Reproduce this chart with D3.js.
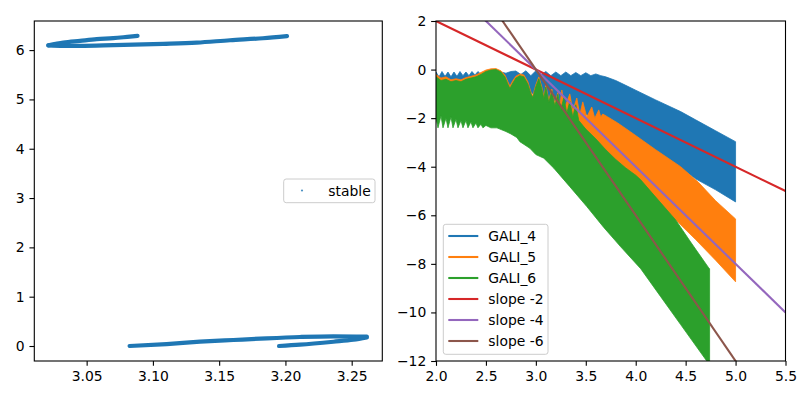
<!DOCTYPE html>
<html>
<head>
<meta charset="utf-8">
<script src="https://cdn.jsdelivr.net/npm/d3@7"></script>
<style>
  html, body { margin: 0; padding: 0; background: #fff; }
  svg { display: block; }
  text { font-family: "DejaVu Sans", sans-serif; }
</style>
</head>
<body>
<svg id="chart" width="800" height="400"></svg>
<script>
// ---------------- DATA ----------------
// Left panel: "stable" scatter, read along the four visible branches of the orbit
const stableTopLower = [[3.0211,6.095],[3.0322,6.085],[3.045,6.085],[3.0701,6.099],[3.1079,6.126],[3.1331,6.152],[3.1582,6.200],[3.183,6.240],[3.2012,6.282]];
const stableTopUpper = [[3.0211,6.095],[3.0324,6.152],[3.045,6.187],[3.0576,6.221],[3.0701,6.241],[3.0827,6.274],[3.0884,6.288]];
const stableBotUpper = [[3.0824,0.0],[3.1104,0.040],[3.1356,0.087],[3.1607,0.122],[3.1859,0.156],[3.211,0.183],[3.2362,0.197],[3.2614,0.189]];
const stableBotLower = [[3.1952,0.0],[3.211,0.027],[3.2362,0.087],[3.2513,0.128],[3.2614,0.176]];
const leftXTicks = [3.05, 3.10, 3.15, 3.20, 3.25];
const leftYTicks = [0, 1, 2, 3, 4, 5, 6];

// Right panel: GALI envelopes (log10 t vs log10 GALI) — upper / lower extent of the oscillation
const gali4UpX = [2.00,2.03,2.06,2.09,2.12,2.15,2.18,2.21,2.24,2.27,2.30,2.33,2.36,2.39,2.42,2.45,2.50,2.55,2.60,2.65,2.70,2.75,2.80,2.85,2.90,2.95,3.00,3.05,3.10,3.15,3.20,3.25,3.30,3.35,3.40,3.45,3.50,3.55,3.60,3.65,3.70,3.80,3.90,4.00,4.20,4.45,4.60,4.80,5.00];
const gali4Up  = [-0.10,-0.30,-0.08,-0.28,-0.10,-0.30,-0.10,-0.28,-0.08,-0.25,-0.10,-0.25,-0.08,-0.22,-0.08,-0.20,-0.06,-0.08,-0.03,-0.10,-0.15,-0.08,-0.06,-0.20,-0.05,-0.25,-0.05,-0.22,-0.08,-0.25,-0.10,-0.25,-0.10,-0.25,-0.12,-0.25,-0.13,-0.25,-0.18,-0.25,-0.30,-0.45,-0.65,-0.85,-1.25,-1.73,-2.07,-2.52,-2.97];
const gali4LoX = [2.00,2.50,2.80,3.00,3.10,3.20,3.30,3.40,3.50,3.60,3.70,3.80,3.90,4.00,4.20,4.45,4.60,4.80,5.00];
const gali4Lo  = [-0.75,-0.80,-0.90,-1.00,-1.15,-1.30,-1.50,-1.70,-1.85,-2.00,-2.20,-2.40,-2.65,-2.90,-3.40,-4.05,-4.50,-4.95,-5.45];

const gali5UpX = [2.00,2.05,2.10,2.15,2.20,2.25,2.30,2.35,2.40,2.45,2.50,2.55,2.60,2.65,2.69,2.72,2.74,2.77,2.80,2.84,2.88,2.92,2.95,2.97,3.00,3.03,3.06,3.08,3.10,3.13,3.16,3.19,3.22,3.24,3.26,3.29,3.34,3.37,3.41,3.44,3.47,3.51,3.56,3.59,3.63,3.65,3.67,3.72,3.82,3.95,4.20,4.45,4.63,4.80,5.00];
const gali5Up  = [-0.20,-0.35,-0.30,-0.42,-0.38,-0.42,-0.33,-0.28,-0.22,-0.12,-0.02,0.03,0.04,-0.05,-0.22,-0.50,-0.68,-0.45,-0.27,-0.18,-0.22,-0.50,-0.92,-1.08,-0.62,-0.30,-0.72,-1.10,-0.65,-1.25,-0.80,-1.40,-0.95,-1.50,-0.84,-1.55,-1.00,-1.70,-1.17,-1.85,-1.33,-1.95,-1.54,-2.00,-1.66,-1.95,-1.83,-1.95,-2.20,-2.57,-3.30,-4.00,-4.65,-5.40,-6.15];
const gali5LoX = [2.00,2.60,3.00,3.50,4.00,4.43,4.60,4.80,5.00];
const gali5Lo  = [-1.75,-1.85,-3.00,-3.90,-4.90,-6.31,-7.00,-7.85,-8.74];

const gali6UpX = [2.00,2.05,2.10,2.15,2.20,2.25,2.30,2.35,2.40,2.45,2.50,2.55,2.60,2.65,2.69,2.72,2.74,2.77,2.80,2.84,2.88,2.92,2.95,2.97,3.00,3.03,3.06,3.08,3.10,3.13,3.16,3.19,3.22,3.25,3.28,3.31,3.34,3.37,3.40,3.43,3.50,3.60,3.70,3.80,3.90,4.00,4.05,4.20,4.40,4.55,4.73,4.74];
const gali6Up  = [-0.30,-0.45,-0.40,-0.50,-0.45,-0.50,-0.40,-0.35,-0.30,-0.20,-0.08,-0.02,0.00,-0.10,-0.30,-0.60,-0.78,-0.55,-0.35,-0.25,-0.30,-0.60,-1.00,-1.15,-0.70,-0.38,-0.80,-1.20,-0.72,-1.35,-0.88,-1.50,-1.02,-1.65,-1.15,-1.80,-1.30,-1.95,-1.45,-2.10,-2.45,-2.85,-3.30,-3.70,-4.05,-4.35,-4.54,-5.25,-6.19,-7.10,-8.16,-8.20];
const gali6LoX = [2.00,2.02,2.05,2.07,2.10,2.12,2.15,2.17,2.20,2.22,2.25,2.27,2.30,2.32,2.35,2.37,2.40,2.42,2.45,2.47,2.50,2.55,2.61,2.70,2.75,2.81,2.84,2.94,3.00,3.08,3.18,3.34,3.51,3.68,3.85,4.05,4.25,4.45,4.72,4.74];
const gali6Lo  = [-2.00,-2.40,-1.90,-2.40,-2.00,-2.40,-1.95,-2.40,-2.05,-2.40,-2.10,-2.40,-2.10,-2.40,-2.15,-2.40,-2.20,-2.40,-2.25,-2.40,-2.30,-2.40,-2.40,-2.55,-2.65,-2.80,-2.97,-3.24,-3.50,-3.65,-4.06,-4.82,-5.64,-6.50,-7.30,-8.20,-9.35,-10.50,-12.05,-12.20];

const slopeX = [2.0, 5.5];
const slope2Y = [2.0, -5.0];
const slope4Y = [4.0, -10.0];
const slope6Y = [6.0, -15.0];
const rightXTicks = [2.0, 2.5, 3.0, 3.5, 4.0, 4.5, 5.0, 5.5];
const rightYTicks = [-12, -10, -8, -6, -4, -2, 0, 2];

const legendNames = ["GALI_4", "GALI_5", "GALI_6", "slope -2", "slope -4", "slope -6"];
const colors = ["#1f77b4", "#ff7f0e", "#2ca02c", "#d62728", "#9467bd", "#8c564b"];

// ---------------- LAYOUT ----------------
const svg = d3.select("#chart");
const FS = 13.9, TICK = 4.86, PAD = 4.86, SPINE = 1.1;
const L = {x0: 34.3, x1: 382.3, y0: 21, y1: 361};
const R = {x0: 436, x1: 785.5, y0: 21, y1: 361};

const lx = d3.scaleLinear().domain([3.0105, 3.2731]).range([L.x0, L.x1]);
const ly = d3.scaleLinear().domain([-0.304, 6.59]).range([L.y1, L.y0]);
const rx = d3.scaleLinear().domain([2.0, 5.5]).range([R.x0, R.x1]);
const ry = d3.scaleLinear().domain([-12, 2]).range([R.y1, R.y0]);

function axes(g, box, xs, ys, xTicks, yTicks, xfmt, yfmt) {
  const ax = d3.axisBottom(xs).tickValues(xTicks).tickSize(TICK).tickPadding(PAD).tickFormat(xfmt);
  const gx = g.append("g").attr("transform", `translate(0,${box.y1})`).call(ax);
  const ay = d3.axisLeft(ys).tickValues(yTicks).tickSize(TICK).tickPadding(PAD).tickFormat(yfmt);
  const gy = g.append("g").attr("transform", `translate(${box.x0},0)`).call(ay);
  [gx, gy].forEach(a => {
    a.select(".domain").remove();
    a.selectAll(".tick line").attr("stroke", "#000").attr("stroke-width", SPINE);
    a.selectAll(".tick text").attr("fill", "#000").style("font-size", FS + "px").style("font-family", "DejaVu Sans");
  });
  g.append("rect").attr("x", box.x0).attr("y", box.y0)
    .attr("width", box.x1 - box.x0).attr("height", box.y1 - box.y0)
    .attr("fill", "none").attr("stroke", "#000").attr("stroke-width", SPINE);
}

// ---------------- LEFT PANEL ----------------
const gl = svg.append("g");
svg.append("clipPath").attr("id", "clipL").append("rect")
  .attr("x", L.x0).attr("y", L.y0).attr("width", L.x1 - L.x0).attr("height", L.y1 - L.y0);
const lline = d3.line().x(d => lx(d[0])).y(d => ly(d[1])).curve(d3.curveMonotoneX);
const branches = [stableTopLower, stableTopUpper, stableBotUpper, stableBotLower];
gl.append("g").attr("clip-path", "url(#clipL)").selectAll("path").data(branches).join("path")
  .attr("d", lline).attr("fill", "none").attr("stroke", colors[0])
  .attr("stroke-width", 4.2).attr("stroke-linecap", "round").attr("stroke-linejoin", "round");
axes(gl, L, lx, ly, leftXTicks, leftYTicks, d3.format(".2f"), d3.format("d"));

// left legend
const lg = gl.append("g");
lg.append("rect").attr("x", 283.7).attr("y", 179).attr("width", 91.3).attr("height", 23.7)
  .attr("rx", 2.5).attr("fill", "#fff").attr("fill-opacity", 0.8).attr("stroke", "#cccccc").attr("stroke-width", 1);
lg.append("circle").attr("cx", 302).attr("cy", 190.5).attr("r", 1.1).attr("fill", colors[0]).attr("opacity", 0.8);
lg.append("text").attr("x", 328.3).attr("y", 195.5).text("stable").style("font-size", FS + "px").attr("fill", "#000");

// ---------------- RIGHT PANEL ----------------
const gr = svg.append("g");
svg.append("clipPath").attr("id", "clipR").append("rect")
  .attr("x", R.x0).attr("y", R.y0).attr("width", R.x1 - R.x0).attr("height", R.y1 - R.y0);
const plot = gr.append("g").attr("clip-path", "url(#clipR)");

const bands = [
  {ux: gali4UpX, u: gali4Up, lx: gali4LoX, l: gali4Lo, c: colors[0]},
  {ux: gali5UpX, u: gali5Up, lx: gali5LoX, l: gali5Lo, c: colors[1]},
  {ux: gali6UpX, u: gali6Up, lx: gali6LoX, l: gali6Lo, c: colors[2]},
];
const poly = d3.line().x(d => rx(d[0])).y(d => ry(d[1]));
bands.forEach(b => {
  const top = b.ux.map((x, i) => [x, b.u[i]]);
  const bot = b.lx.map((x, i) => [x, b.l[i]]).reverse();
  plot.append("path").attr("d", poly(top.concat(bot)) + "Z").attr("fill", b.c)
    .attr("stroke", b.c).attr("stroke-width", 0.8).attr("stroke-linejoin", "round");
});
const slopes = [slope2Y, slope4Y, slope6Y];
slopes.forEach((ys, i) => {
  plot.append("path").datum(slopeX.map((x, j) => [x, ys[j]])).attr("d", poly)
    .attr("fill", "none").attr("stroke", colors[3 + i]).attr("stroke-width", 2.08);
});
axes(gr, R, rx, ry, rightXTicks, rightYTicks, d3.format(".1f"), d3.format("d"));

// right legend
const rg = gr.append("g");
rg.append("rect").attr("x", 443.3).attr("y", 224.3).attr("width", 104.7).attr("height", 130)
  .attr("rx", 2.5).attr("fill", "#fff").attr("fill-opacity", 0.8).attr("stroke", "#cccccc").attr("stroke-width", 1);
legendNames.forEach((name, i) => {
  const y = 236 + i * 21;
  rg.append("line").attr("x1", 448.3).attr("x2", 478.3).attr("y1", y).attr("y2", y)
    .attr("stroke", colors[i]).attr("stroke-width", 2.08);
  rg.append("text").attr("x", 488.3).attr("y", y + 5).text(name)
    .style("font-size", FS + "px").attr("fill", "#000");
});
</script>
</body>
</html>
